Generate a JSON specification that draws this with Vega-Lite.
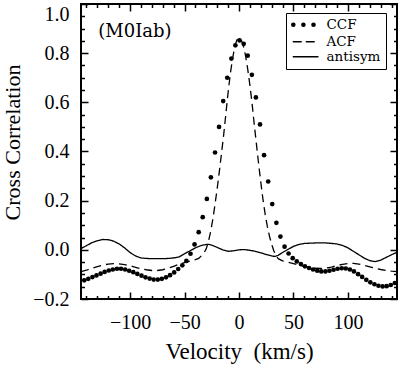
{
  "$schema": "https://vega.github.io/schema/vega-lite/v6.json",
  "autosize": {"type": "none"},
  "width": 316,
  "height": 295,
  "padding": {"left": 81, "top": 4, "right": 3, "bottom": 67},
  "config": {
    "view": {"stroke": "black", "strokeWidth": 2},
    "axis": {"domain": false, "grid": false, "zindex": 1, "tickColor": "black", "tickWidth": 1.5, "labelColor": "black", "titleColor": "black", "labelFont": "Liberation Serif", "titleFont": "Liberation Serif", "titleFontWeight": "normal", "labelOverlap": false}
  },
  "datasets": {
    "ccf": [
      {"series":"CCF","v":-142,"cc":-0.124},{"series":"CCF","v":-138.3,"cc":-0.118},{"series":"CCF","v":-134.5,"cc":-0.111},{"series":"CCF","v":-130.8,"cc":-0.104},
      {"series":"CCF","v":-127,"cc":-0.097},{"series":"CCF","v":-123.3,"cc":-0.090},{"series":"CCF","v":-119.5,"cc":-0.084},{"series":"CCF","v":-115.8,"cc":-0.080},
      {"series":"CCF","v":-112,"cc":-0.077},{"series":"CCF","v":-108.3,"cc":-0.077},{"series":"CCF","v":-104.5,"cc":-0.080},{"series":"CCF","v":-100.8,"cc":-0.085},
      {"series":"CCF","v":-97,"cc":-0.091},{"series":"CCF","v":-93.3,"cc":-0.098},{"series":"CCF","v":-89.5,"cc":-0.105},{"series":"CCF","v":-85.8,"cc":-0.112},
      {"series":"CCF","v":-82,"cc":-0.117},{"series":"CCF","v":-78.3,"cc":-0.121},{"series":"CCF","v":-74.5,"cc":-0.121},{"series":"CCF","v":-70.8,"cc":-0.118},
      {"series":"CCF","v":-67,"cc":-0.112},{"series":"CCF","v":-63.3,"cc":-0.103},{"series":"CCF","v":-59.5,"cc":-0.092},{"series":"CCF","v":-55.8,"cc":-0.078},
      {"series":"CCF","v":-52,"cc":-0.063},{"series":"CCF","v":-48.3,"cc":-0.045},{"series":"CCF","v":-44.5,"cc":-0.016},{"series":"CCF","v":-40.8,"cc":0.022},
      {"series":"CCF","v":-37,"cc":0.072},{"series":"CCF","v":-33.3,"cc":0.133},{"series":"CCF","v":-29.5,"cc":0.207},{"series":"CCF","v":-25.8,"cc":0.295},
      {"series":"CCF","v":-22,"cc":0.396},{"series":"CCF","v":-18.3,"cc":0.500},{"series":"CCF","v":-14.5,"cc":0.605},{"series":"CCF","v":-10.8,"cc":0.700},
      {"series":"CCF","v":-7,"cc":0.778},{"series":"CCF","v":-3.3,"cc":0.832},{"series":"CCF","v":0.5,"cc":0.852},{"series":"CCF","v":4.3,"cc":0.838},
      {"series":"CCF","v":8,"cc":0.790},{"series":"CCF","v":11.8,"cc":0.712},{"series":"CCF","v":15.5,"cc":0.620},{"series":"CCF","v":19.3,"cc":0.510},
      {"series":"CCF","v":23,"cc":0.385},{"series":"CCF","v":26.8,"cc":0.278},{"series":"CCF","v":30.5,"cc":0.186},{"series":"CCF","v":34.3,"cc":0.110},
      {"series":"CCF","v":38,"cc":0.054},{"series":"CCF","v":41.8,"cc":0.013},{"series":"CCF","v":45.5,"cc":-0.015},{"series":"CCF","v":49.3,"cc":-0.034},
      {"series":"CCF","v":53,"cc":-0.047},{"series":"CCF","v":56.8,"cc":-0.058},{"series":"CCF","v":60.5,"cc":-0.067},{"series":"CCF","v":64.3,"cc":-0.074},
      {"series":"CCF","v":68,"cc":-0.080},{"series":"CCF","v":71.8,"cc":-0.085},{"series":"CCF","v":75.5,"cc":-0.088},{"series":"CCF","v":79.3,"cc":-0.088},
      {"series":"CCF","v":83,"cc":-0.085},{"series":"CCF","v":86.8,"cc":-0.081},{"series":"CCF","v":90.5,"cc":-0.077},{"series":"CCF","v":94.3,"cc":-0.075},
      {"series":"CCF","v":98,"cc":-0.076},{"series":"CCF","v":101.8,"cc":-0.080},{"series":"CCF","v":105.5,"cc":-0.088},{"series":"CCF","v":109.3,"cc":-0.099},
      {"series":"CCF","v":113,"cc":-0.110},{"series":"CCF","v":116.8,"cc":-0.122},{"series":"CCF","v":120.5,"cc":-0.132},{"series":"CCF","v":124.3,"cc":-0.140},
      {"series":"CCF","v":128,"cc":-0.146},{"series":"CCF","v":131.8,"cc":-0.149},{"series":"CCF","v":135.5,"cc":-0.148},{"series":"CCF","v":139.3,"cc":-0.143},
      {"series":"CCF","v":143,"cc":-0.135}
    ],
    "lines": [
      {"series":"ACF","v":-145,"cc":-0.089},{"series":"ACF","v":-140,"cc":-0.083},{"series":"ACF","v":-135,"cc":-0.075},{"series":"ACF","v":-130,"cc":-0.068},
      {"series":"ACF","v":-125,"cc":-0.062},{"series":"ACF","v":-120,"cc":-0.058},{"series":"ACF","v":-115,"cc":-0.056},{"series":"ACF","v":-110,"cc":-0.057},
      {"series":"ACF","v":-105,"cc":-0.060},{"series":"ACF","v":-100,"cc":-0.065},{"series":"ACF","v":-95,"cc":-0.071},{"series":"ACF","v":-90,"cc":-0.077},
      {"series":"ACF","v":-85,"cc":-0.081},{"series":"ACF","v":-80,"cc":-0.084},{"series":"ACF","v":-75,"cc":-0.084},{"series":"ACF","v":-70,"cc":-0.081},
      {"series":"ACF","v":-65,"cc":-0.075},{"series":"ACF","v":-60,"cc":-0.067},{"series":"ACF","v":-55,"cc":-0.059},{"series":"ACF","v":-50,"cc":-0.052},
      {"series":"ACF","v":-45,"cc":-0.046},{"series":"ACF","v":-40,"cc":-0.040},{"series":"ACF","v":-37,"cc":-0.035},{"series":"ACF","v":-34,"cc":-0.022},
      {"series":"ACF","v":-32,"cc":-0.012},{"series":"ACF","v":-30,"cc":0.005},{"series":"ACF","v":-28,"cc":0.035},{"series":"ACF","v":-26,"cc":0.075},
      {"series":"ACF","v":-24,"cc":0.125},{"series":"ACF","v":-22,"cc":0.185},{"series":"ACF","v":-20,"cc":0.25},{"series":"ACF","v":-18,"cc":0.32},
      {"series":"ACF","v":-16,"cc":0.395},{"series":"ACF","v":-14,"cc":0.47},{"series":"ACF","v":-12,"cc":0.555},{"series":"ACF","v":-10,"cc":0.64},
      {"series":"ACF","v":-8,"cc":0.715},{"series":"ACF","v":-6,"cc":0.775},{"series":"ACF","v":-4,"cc":0.825},{"series":"ACF","v":-2,"cc":0.853},
      {"series":"ACF","v":0,"cc":0.862},{"series":"ACF","v":2,"cc":0.855},{"series":"ACF","v":4,"cc":0.83},{"series":"ACF","v":6,"cc":0.79},
      {"series":"ACF","v":8,"cc":0.735},{"series":"ACF","v":10,"cc":0.67},{"series":"ACF","v":12,"cc":0.595},{"series":"ACF","v":14,"cc":0.51},
      {"series":"ACF","v":16,"cc":0.43},{"series":"ACF","v":18,"cc":0.35},{"series":"ACF","v":20,"cc":0.275},{"series":"ACF","v":22,"cc":0.205},
      {"series":"ACF","v":24,"cc":0.145},{"series":"ACF","v":26,"cc":0.095},{"series":"ACF","v":28,"cc":0.055},{"series":"ACF","v":30,"cc":0.022},
      {"series":"ACF","v":32,"cc":-0.005},{"series":"ACF","v":34,"cc":-0.025},{"series":"ACF","v":36,"cc":-0.036},{"series":"ACF","v":40,"cc":-0.045},
      {"series":"ACF","v":45,"cc":-0.05},{"series":"ACF","v":50,"cc":-0.056},{"series":"ACF","v":55,"cc":-0.062},{"series":"ACF","v":60,"cc":-0.067},
      {"series":"ACF","v":65,"cc":-0.072},{"series":"ACF","v":70,"cc":-0.075},{"series":"ACF","v":75,"cc":-0.076},{"series":"ACF","v":80,"cc":-0.074},
      {"series":"ACF","v":85,"cc":-0.07},{"series":"ACF","v":90,"cc":-0.064},{"series":"ACF","v":95,"cc":-0.059},{"series":"ACF","v":100,"cc":-0.056},
      {"series":"ACF","v":105,"cc":-0.055},{"series":"ACF","v":110,"cc":-0.058},{"series":"ACF","v":115,"cc":-0.063},{"series":"ACF","v":120,"cc":-0.069},
      {"series":"ACF","v":125,"cc":-0.075},{"series":"ACF","v":130,"cc":-0.08},{"series":"ACF","v":135,"cc":-0.084},{"series":"ACF","v":140,"cc":-0.087},
      {"series":"ACF","v":145,"cc":-0.089},
      {"series":"antisym","v":-145,"cc":0.005},{"series":"antisym","v":-140,"cc":0.017},{"series":"antisym","v":-135,"cc":0.029},{"series":"antisym","v":-130,"cc":0.037},
      {"series":"antisym","v":-125,"cc":0.042},{"series":"antisym","v":-120,"cc":0.041},{"series":"antisym","v":-115,"cc":0.035},{"series":"antisym","v":-110,"cc":0.024},
      {"series":"antisym","v":-105,"cc":0.008},{"series":"antisym","v":-100,"cc":-0.011},{"series":"antisym","v":-95,"cc":-0.025},{"series":"antisym","v":-90,"cc":-0.033},
      {"series":"antisym","v":-85,"cc":-0.035},{"series":"antisym","v":-80,"cc":-0.036},{"series":"antisym","v":-75,"cc":-0.036},{"series":"antisym","v":-70,"cc":-0.036},
      {"series":"antisym","v":-65,"cc":-0.035},{"series":"antisym","v":-60,"cc":-0.033},{"series":"antisym","v":-55,"cc":-0.029},{"series":"antisym","v":-50,"cc":-0.016},
      {"series":"antisym","v":-45,"cc":-0.004},{"series":"antisym","v":-40,"cc":0.008},{"series":"antisym","v":-35,"cc":0.017},{"series":"antisym","v":-30,"cc":0.022},
      {"series":"antisym","v":-28,"cc":0.022},{"series":"antisym","v":-25,"cc":0.019},{"series":"antisym","v":-20,"cc":0.010},{"series":"antisym","v":-15,"cc":0.0},
      {"series":"antisym","v":-10,"cc":-0.006},{"series":"antisym","v":-5,"cc":-0.004},{"series":"antisym","v":0,"cc":0.0},{"series":"antisym","v":5,"cc":0.001},
      {"series":"antisym","v":10,"cc":-0.002},{"series":"antisym","v":15,"cc":-0.006},{"series":"antisym","v":20,"cc":-0.012},{"series":"antisym","v":25,"cc":-0.019},
      {"series":"antisym","v":30,"cc":-0.025},{"series":"antisym","v":33,"cc":-0.027},{"series":"antisym","v":36,"cc":-0.022},{"series":"antisym","v":40,"cc":-0.011},
      {"series":"antisym","v":45,"cc":0.002},{"series":"antisym","v":50,"cc":0.014},{"series":"antisym","v":55,"cc":0.022},{"series":"antisym","v":60,"cc":0.026},
      {"series":"antisym","v":70,"cc":0.028},{"series":"antisym","v":80,"cc":0.028},{"series":"antisym","v":90,"cc":0.024},{"series":"antisym","v":95,"cc":0.018},
      {"series":"antisym","v":100,"cc":0.008},{"series":"antisym","v":105,"cc":-0.006},{"series":"antisym","v":110,"cc":-0.02},{"series":"antisym","v":115,"cc":-0.034},
      {"series":"antisym","v":120,"cc":-0.044},{"series":"antisym","v":125,"cc":-0.048},{"series":"antisym","v":130,"cc":-0.042},{"series":"antisym","v":135,"cc":-0.031},
      {"series":"antisym","v":140,"cc":-0.02},{"series":"antisym","v":145,"cc":-0.01}
    ],
    "note": [{"label": "(M0Iab)", "v": -95.5, "cc": 0.885}]
  },
  "resolve": {"axis": {"x": "independent", "y": "independent"}},
  "layer": [
    {
      "data": {"name": "lines"},
      "mark": {"type": "line", "color": "black", "strokeWidth": 1.3, "clip": true},
      "encoding": {
        "x": {"field": "v", "type": "quantitative", "scale": {"domain": [-145, 145], "nice": false, "zero": false},
              "axis": {"orient": "bottom", "values": [-140,-130,-120,-110,-100,-90,-80,-70,-60,-50,-40,-30,-20,-10,0,10,20,30,40,50,60,70,80,90,100,110,120,130,140],
                       "tickSize": {"condition": {"test": "datum.value % 50 === 0", "value": -7}, "value": -3.5},
                       "labelExpr": "datum.value % 50 === 0 ? datum.label : ''",
                       "labelFontSize": 20, "labelPadding": 20, "title": "Velocity\u00a0 (km/s)", "titleFontSize": 23,
                       "titleBaseline": "alphabetic", "titleY": 59}},
        "y": {"field": "cc", "type": "quantitative", "scale": {"domain": [-0.2, 1.0], "nice": false, "zero": false},
              "axis": {"orient": "left", "values": [-0.2,-0.15,-0.1,-0.05,0,0.05,0.1,0.15,0.2,0.25,0.3,0.35,0.4,0.45,0.5,0.55,0.6,0.65,0.7,0.75,0.8,0.85,0.9,0.95,1.0],
                       "format": ".1f",
                       "tickSize": {"condition": {"test": "abs(round(datum.value*20)) % 4 === 0", "value": -7}, "value": -3.5},
                       "labelExpr": "abs(round(datum.value*20)) % 4 === 0 ? datum.label : ''",
                       "labelBaseline": {"condition": {"test": "datum.value > 0.99", "value": "top"}, "value": "middle"},
                       "labelFontSize": 20, "labelPadding": 19, "title": "Cross Correlation", "titleFontSize": 22,
                       "titleAngle": 270, "titleBaseline": "alphabetic", "titleAlign": "center", "titleX": -62, "titleY": 138}},
        "strokeDash": {"field": "series", "type": "nominal",
          "scale": {"domain": ["CCF", "ACF", "antisym"], "range": [[0.1, 10], [8, 5], [1, 0]]},
          "legend": {"title": null, "orient": "none", "legendX": 205, "legendY": 9,
            "symbolType": "M-1,0H4.5", "symbolSize": 81, "symbolStrokeColor": "black", "symbolFillColor": "transparent", "symbolStrokeWidth": 1.3,
            "labelFont": "DejaVu Serif", "labelFontSize": 13.5, "labelColor": "black", "labelOffset": 22,
            "strokeColor": "black", "fillColor": "white", "padding": 5, "rowPadding": 0,
            "encode": {"symbols": {"update": {"strokeWidth": {"signal": "datum.value === 'CCF' ? 4.5 : 1.3"}, "strokeCap": {"value": "round"}}}}}
        }
      }
    },
    {
      "data": {"name": "ccf"},
      "mark": {"type": "point", "filled": true, "color": "black", "size": 22, "opacity": 1},
      "encoding": {
        "x": {"field": "v", "type": "quantitative", "axis": {"orient": "top", "values": [-140,-130,-120,-110,-100,-90,-80,-70,-60,-50,-40,-30,-20,-10,0,10,20,30,40,50,60,70,80,90,100,110,120,130,140],
                       "tickSize": {"condition": {"test": "datum.value % 50 === 0", "value": -7}, "value": -3.5}, "labels": false, "title": null}},
        "y": {"field": "cc", "type": "quantitative", "axis": {"orient": "right", "values": [-0.2,-0.15,-0.1,-0.05,0,0.05,0.1,0.15,0.2,0.25,0.3,0.35,0.4,0.45,0.5,0.55,0.6,0.65,0.7,0.75,0.8,0.85,0.9,0.95,1.0],
                       "tickSize": {"condition": {"test": "abs(round(datum.value*20)) % 4 === 0", "value": -7}, "value": -3.5}, "labels": false, "title": null}}
      }
    },
    {
      "data": {"name": "note"},
      "mark": {"type": "text", "font": "DejaVu Serif", "fontSize": 18, "color": "black", "align": "center", "baseline": "middle"},
      "encoding": {
        "text": {"field": "label", "type": "nominal"},
        "x": {"field": "v", "type": "quantitative", "axis": null},
        "y": {"field": "cc", "type": "quantitative", "axis": null}
      }
    }
  ]
}
